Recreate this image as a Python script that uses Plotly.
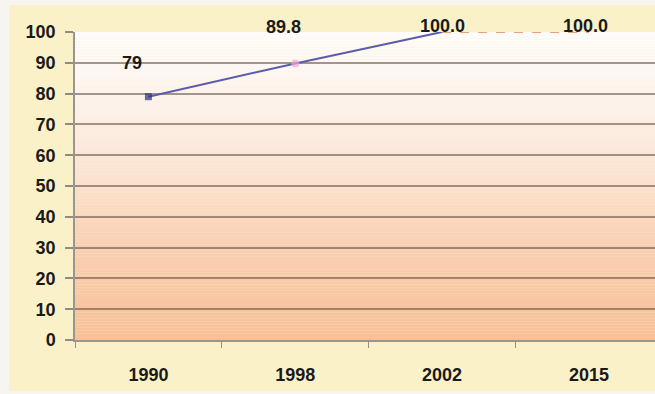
import plotly.graph_objects as go

# Data
years = ["1990", "1998", "2002", "2015"]
actual_years = ["1990", "1998", "2002"]
actual_values = [79, 89.8, 100.0]
target_years = ["2002", "2015"]
target_values = [100.0, 100.0]
label_years = ["1990", "1998", "2002", "2015"]
label_values = [79, 89.8, 100.0, 100.0]
label_texts = ["79", "89.8", "100.0", "100.0"]
y_ticks = [0, 10, 20, 30, 40, 50, 60, 70, 80, 90, 100]

FONT = "Liberation Sans"
W, H = 655, 394
M_L, M_R, M_T, M_B = 75, 0, 32, 54
PW, PH = W - M_L - M_R, H - M_T - M_B


def px_x(px):
    return (px - M_L) / PW


def px_y(py):
    return (H - M_B - py) / PH


fig = go.Figure()

# Solid series 1990-2002
fig.add_trace(go.Scatter(
    x=actual_years, y=actual_values, mode="lines+markers",
    line=dict(color="#5B5DA8", width=2),
    marker=dict(symbol=["square", "circle", "circle"], size=[7, 8, 0],
                color=["#2E2F7A", "#EEA6D0", "#5B5DA8"], line=dict(width=0)),
    showlegend=False, cliponaxis=False,
))
# Dashed projection 2002-2015
fig.add_trace(go.Scatter(
    x=target_years, y=target_values, mode="lines",
    line=dict(color="#E9A07E", width=2, dash="dash"),
    showlegend=False, cliponaxis=False,
))

# Value labels (category axis positions given by index)
offsets = [(-16, 34), (-12, 36), (0, 6), (-3, 6)]
for yr, v, t, (dx, dy) in zip(label_years, label_values, label_texts, offsets):
    fig.add_annotation(x=years.index(yr), y=v, xref="x", yref="y",
                       text=f"<b>{t}</b>", showarrow=False,
                       xshift=dx, yshift=dy,
                       font=dict(family=FONT, size=18, color="#1a1a1a"))

shapes = []
# Pale yellow card with a thin light border around it
shapes.append(dict(type="rect", xref="paper", yref="paper",
                   x0=px_x(9), x1=1.0, y0=px_y(391), y1=px_y(5),
                   fillcolor="#FBF1C9", line=dict(width=0), layer="below"))

# Vertical white-to-peach gradient behind the plot area
stops = [(0, (248, 192, 152)), (30, (249, 207, 178)), (50, (251, 224, 205)),
         (75, (252, 241, 234)), (100, (254, 252, 250))]


def grad(v):
    for (a, ca), (b, cb) in zip(stops[:-1], stops[1:]):
        if a <= v <= b:
            t = (v - a) / (b - a)
            return tuple(round(ca[i] + (cb[i] - ca[i]) * t) for i in range(3))
    return stops[-1][1]


n = 100
for i in range(n):
    lo, hi = i * 100 / n, (i + 1) * 100 / n
    r, g, b = grad((lo + hi) / 2)
    shapes.append(dict(type="rect", xref="paper", yref="y",
                       x0=0, x1=1, y0=lo, y1=hi,
                       fillcolor=f"rgb({r},{g},{b})",
                       line=dict(width=0), layer="below"))

fig.update_layout(
    width=W, height=H,
    margin=dict(l=M_L, r=M_R, t=M_T, b=M_B),
    paper_bgcolor="#F6F5EF",
    plot_bgcolor="rgba(0,0,0,0)",
    shapes=shapes,
    font=dict(family=FONT, size=18, color="#1a1a1a"),
    xaxis=dict(
        type="category", categoryorder="array", categoryarray=years,
        range=[-0.5, 3.45], tickson="boundaries",
        ticks="outside", ticklen=6, tickcolor="#9a9080", tickwidth=1,
        showgrid=False, showline=True, linecolor="#9a9590", linewidth=1.5,
        tickfont=dict(family=FONT, size=18, color="#1a1a1a", weight="bold"),
        ticklabelstandoff=18,
    ),
    yaxis=dict(
        range=[0, 100], tickvals=y_ticks,
        ticks="outside", ticklen=8, tickcolor="#8f8a86", tickwidth=2,
        showgrid=True, gridcolor="rgba(90,70,55,0.55)", gridwidth=2,
        showline=True, linecolor="#9a9590", linewidth=1.5,
        zeroline=False,
        tickfont=dict(family=FONT, size=18, color="#1a1a1a", weight="bold"),
        ticklabelstandoff=6,
    ),
)

fig.write_html("out.html")
